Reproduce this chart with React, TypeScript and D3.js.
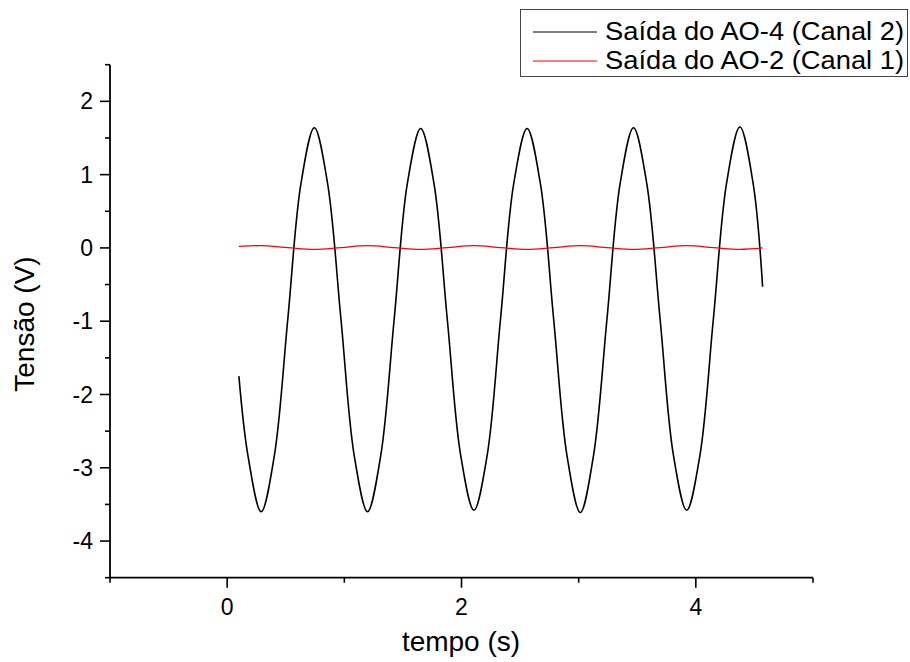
import React from "react";
import * as d3 from "d3";

const W = 910;
const H = 662;

// Canal 2 (AO-4) — time (s) and voltage (V)
const ch2Time = [
  0.10, 0.177, 0.290, 0.403, 0.517, 0.630, 0.744, 0.857, 0.971, 1.084,
  1.198, 1.311, 1.425, 1.538, 1.652, 1.765, 1.879, 1.992, 2.106, 2.219,
  2.333, 2.446, 2.560, 2.673, 2.787, 2.900, 3.014, 3.127, 3.241, 3.354,
  3.468, 3.581, 3.695, 3.808, 3.922, 4.035, 4.149, 4.262, 4.376, 4.489, 4.57,
];
const ch2Volt = [
  -1.75, -2.83, -3.60, -2.83, -0.98, 0.88, 1.64, 0.88, -0.97, -2.83,
  -3.60, -2.83, -0.98, 0.88, 1.63, 0.88, -0.98, -2.82, -3.58, -2.83,
  -0.97, 0.88, 1.63, 0.88, -0.98, -2.83, -3.61, -2.83, -0.98, 0.88,
  1.64, 0.88, -0.97, -2.82, -3.58, -2.83, -0.98, 0.88, 1.65, 0.88, -0.53,
];

// Canal 1 (AO-2)
const ch1Time = [
  0.10, 0.290, 0.517, 0.744, 0.971, 1.198, 1.425, 1.652, 1.879, 2.106,
  2.333, 2.560, 2.787, 3.014, 3.241, 3.468, 3.695, 3.922, 4.149, 4.376, 4.57,
];
const ch1Volt = [
  0.02, 0.03, 0.005, -0.02, 0.005, 0.03, 0.005, -0.02, 0.005, 0.03,
  0.005, -0.02, 0.005, 0.03, 0.005, -0.02, 0.005, 0.03, 0.005, -0.02, 0.0,
];

const xMajor = [0, 2, 4];
const xMinor = [-1, 1, 3, 5];
const yMajor = [-4, -3, -2, -1, 0, 1, 2];
const yMinor = [-4.5, -3.5, -2.5, -1.5, -0.5, 0.5, 1.5, 2.5];

const legendLabels = ["Saída do AO-4 (Canal 2)", "Saída do AO-2 (Canal 1)"];
const legendColors = ["#000000", "#ff0000"];

const FONT = "Arial, 'Liberation Sans', sans-serif";

export default function App() {
  const x = d3.scaleLinear().domain([-1, 5]).range([110, 813]);
  const y = d3.scaleLinear().domain([-4.5, 2.5]).range([577.7, 64.7]);
  const line = d3
    .line<[number, number]>()
    .x((d) => x(d[0]))
    .y((d) => y(d[1]))
    .curve(d3.curveCatmullRom.alpha(0.5));

  const ch2 = ch2Time.map((t, i) => [t, ch2Volt[i]] as [number, number]);
  const ch1 = ch1Time.map((t, i) => [t, ch1Volt[i]] as [number, number]);

  const x0 = x.range()[0];
  const y0 = y.range()[0];

  return (
    <svg
      width={W}
      height={H}
      style={{ position: "absolute", left: 0, top: 0, background: "#fff" }}
      fontFamily={FONT}
    >
      <rect width={W} height={H} fill="#fff" />
      {/* data */}
      <path d={line(ch2) || ""} fill="none" stroke="#000" strokeWidth={1.6} />
      <path d={line(ch1) || ""} fill="none" stroke="#ff0000" strokeWidth={1.3} />

      {/* y axis */}
      <line x1={x0} x2={x0} y1={y(2.5)} y2={y(-4.5)} stroke="#000" strokeWidth={1.8} />
      {yMajor.map((v) => (
        <g key={"ym" + v}>
          <line x1={x0 - 10} x2={x0} y1={y(v)} y2={y(v)} stroke="#000" strokeWidth={1.6} />
          <text x={x0 - 17} y={y(v)} dy="0.35em" textAnchor="end" fontSize={23}>
            {v}
          </text>
        </g>
      ))}
      {yMinor.map((v) => (
        <line key={"yn" + v} x1={x0 - 5} x2={x0} y1={y(v)} y2={y(v)} stroke="#000" strokeWidth={1.6} />
      ))}

      {/* x axis */}
      <line x1={x(-1)} x2={x(5)} y1={y0} y2={y0} stroke="#000" strokeWidth={1.8} />
      {xMajor.map((v) => (
        <g key={"xm" + v}>
          <line x1={x(v)} x2={x(v)} y1={y0} y2={y0 + 10} stroke="#000" strokeWidth={1.6} />
          <text x={x(v)} y={y0 + 37} textAnchor="middle" fontSize={23}>
            {v}
          </text>
        </g>
      ))}
      {xMinor.map((v) => (
        <line key={"xn" + v} x1={x(v)} x2={x(v)} y1={y0} y2={y0 + 5} stroke="#000" strokeWidth={1.6} />
      ))}

      {/* axis titles */}
      <text x={461} y={651} textAnchor="middle" fontSize={28}>
        tempo (s)
      </text>
      <text
        transform={`translate(34, 324) rotate(-90)`}
        textAnchor="middle"
        fontSize={28}
      >
        Tensão (V)
      </text>

      {/* legend */}
      <rect x={520.5} y={9.5} width={387} height={67} fill="#fff" stroke="#444" strokeWidth={1} />
      {legendLabels.map((lab, i) => (
        <g key={lab}>
          <line x1={533} x2={597} y1={32 + i * 29} y2={32 + i * 29} stroke={legendColors[i]} strokeWidth={1.2} />
          <text x={605} y={40 + i * 29} fontSize={26} textLength={299} lengthAdjust="spacingAndGlyphs">
            {lab}
          </text>
        </g>
      ))}
    </svg>
  );
}
